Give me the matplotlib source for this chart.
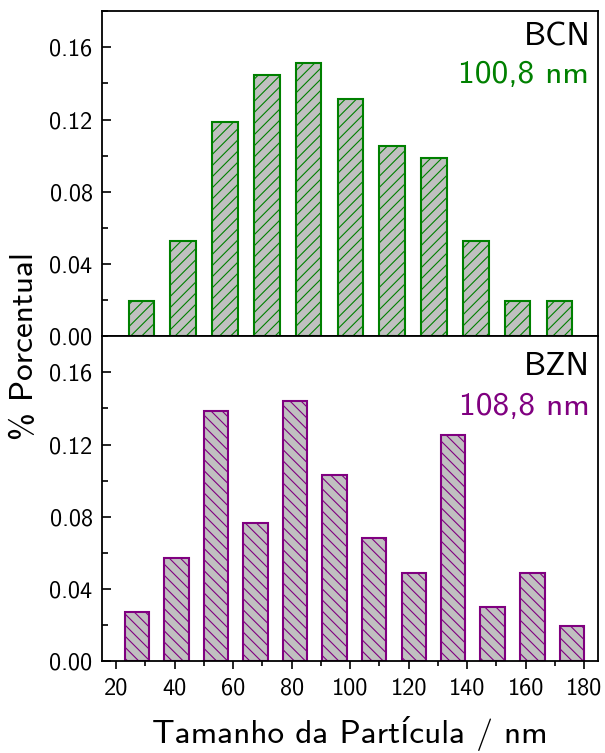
import matplotlib
matplotlib.use("Agg")
import matplotlib.pyplot as plt
from matplotlib.ticker import MultipleLocator, FormatStrFormatter

# Particle size histograms (fraction of particles per size bin)
bcn_centers = [28.7, 43.0, 57.3, 71.6, 85.8, 100.1, 114.4, 128.7, 143.0, 157.2, 171.5]
bcn_frac = [0.0196, 0.0526, 0.1184, 0.1447, 0.1513, 0.1316, 0.1053, 0.0987, 0.0526, 0.0196, 0.0196]
bzn_centers = [27.2, 40.7, 54.2, 67.7, 81.2, 94.7, 108.2, 121.8, 135.2, 148.7, 162.3, 175.8]
bzn_frac = [0.0272, 0.0569, 0.1388, 0.0763, 0.1441, 0.1033, 0.0680, 0.0491, 0.1251, 0.0301, 0.0491, 0.0194]

names = ["BCN", "BZN"]
mean_sizes = ["100,8 nm", "108,8 nm"]

# per-panel drawing style
colors = ["#008000", "#800080"]
hatches = ["///", "\\\\\\"]
bar_widths = [8.8, 8.4]
name_y = [0.895, 0.881]
size_y = [0.778, 0.759]

plt.rcParams["font.family"] = ["cmss10", "DejaVu Sans"]
plt.rcParams["axes.unicode_minus"] = False
plt.rcParams["hatch.linewidth"] = 0.8
plt.rcParams["axes.linewidth"] = 1.3

fig, axes = plt.subplots(2, 1, figsize=(6.05, 7.53), dpi=100, sharex=True)
fig.subplots_adjust(left=0.168, right=0.988, top=0.985, bottom=0.122, hspace=0)

data = [(bcn_centers, bcn_frac), (bzn_centers, bzn_frac)]
for i, ax in enumerate(axes):
    centers, frac = data[i]
    ax.bar(centers, frac, width=bar_widths[i], color="#c0c0c0",
           edgecolor=colors[i], hatch=hatches[i], linewidth=1.5)
    ax.set_ylim(0, 0.18)
    ax.set_xlim(15.1, 184.6)
    ax.yaxis.set_major_locator(MultipleLocator(0.04))
    ax.yaxis.set_minor_locator(MultipleLocator(0.02))
    ax.xaxis.set_major_locator(MultipleLocator(20))
    ax.xaxis.set_minor_locator(MultipleLocator(10))
    ax.yaxis.set_major_formatter(FormatStrFormatter("%.2f"))
    ax.tick_params(axis="y", which="major", direction="in", length=6.5, width=1.2,
                   labelsize=17.5, pad=6.5)
    ax.tick_params(axis="y", which="minor", direction="in", length=4.3, width=1.2)
    ax.tick_params(axis="x", which="major", direction="out", length=5.8, width=1.2,
                   labelsize=17.5, pad=6)
    ax.tick_params(axis="x", which="minor", direction="out", length=3.8, width=1.2)
    ax.text(0.985, name_y[i], names[i], transform=ax.transAxes, ha="right",
            va="baseline", fontsize=24, color="black")
    ax.text(0.983, size_y[i], mean_sizes[i], transform=ax.transAxes, ha="right",
            va="baseline", fontsize=24, color=colors[i])

axes[0].tick_params(axis="x", which="both", labelbottom=False)
axes[1].set_xlabel("Tamanho da Partícula / nm", fontsize=24, labelpad=12)
fig.text(0.041, 0.5405, "% Porcentual", rotation=90, ha="center", va="center", fontsize=24)

fig.savefig("out.png", dpi=100)
